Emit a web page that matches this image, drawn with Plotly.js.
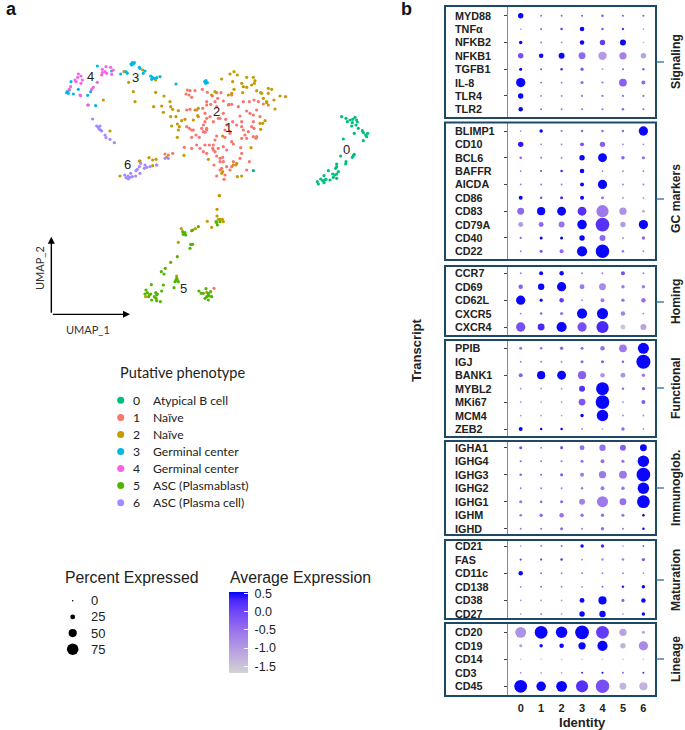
<!DOCTYPE html>
<html>
<head>
<meta charset="utf-8">
<script src="https://cdn.plot.ly/plotly-3.0.1.min.js"></script>
<style>html,body{margin:0;padding:0;background:#fff}</style>
</head>
<body>
<div id="chart" style="width:685px;height:730px"></div>
<script>
// ---------- UMAP embedding values ----------
const c0x=[875,888,892,900,908,915,920,922,907,905,918,925,937,940,953,947,950,940,913,880,910,913,907,888,887,872,860,860,857,865,860,855,848,850,860,835,822,812,818,825,822,802,805,828,840,610];
const c0y=[200,205,215,210,208,202,210,216,218,228,225,235,242,248,250,255,260,272,250,267,317,313,322,335,342,318,342,350,355,365,372,375,372,382,385,362,377,387,392,390,398,395,402,388,390,362];
const c1x=[412,420,435,457,408,425,417,472,500,513,487,503,520,537,545,535,482,495,545,470,458,440,420,410,445,430,465,470,480,465,460,470,460,465,490,510,527,520,500,565,580,598,612,625,640,590,570,575,548,560,530,525,540,600,610,620,630,605,612,595,585,575,590,620,618,545,550,500,495,525,490,488,465,478,450,460,470,490,495,505,520,403,425,440,448,425,418,410,425,572,575,510,518,520,510,570,492,510,515,530,540,550,558,545,525,522,500,590,598,345,355,368,438,500,575,610,610,580,540,470,455,470,505,530,492];
const c1y=[120,122,122,118,132,142,135,127,128,128,138,145,153,163,163,165,163,155,135,155,175,180,178,180,200,240,190,205,200,215,225,235,245,247,215,205,208,190,170,170,155,155,150,155,162,183,198,215,215,225,225,240,245,190,195,180,200,230,235,245,255,265,265,260,265,275,282,258,270,262,285,295,285,285,295,305,310,300,305,295,290,292,295,285,262,262,235,230,240,293,310,325,322,335,335,325,345,360,355,350,360,335,345,350,375,388,378,360,335,312,315,310,255,318,230,215,260,240,250,240,235,165,205,300,715];
const c2x=[222,278,236,250,255,160,180,317,317,342,311,335,360,362,368,340,385,378,362,405,395,365,382,388,385,382,402,430,435,445,443,485,495,515,540,552,548,562,535,545,552,575,590,610,615,613,605,578,580,590,620,635,640,632,655,665,655,650,655,650,672,690,707,675,630,638,645,632,270,297,308,318,308,320,210,268,350,603,475,560,550,562,575,518,515,508,518,
508,501,501,505,510,517,520,436,472,485,394,385,422,380,470,287];
const c2y=[65,60,97,125,155,150,243,90,127,138,170,168,155,170,178,187,182,200,200,208,212,228,222,230,240,262,316,210,180,175,197,135,125,87,72,65,95,75,135,130,118,100,82,82,92,100,105,128,110,112,122,130,145,128,115,118,130,158,165,155,150,138,140,177,220,220,212,238,333,323,330,328,347,345,378,333,322,293,328,340,345,380,378,365,370,437,258,
437,478,498,508,508,508,515,536,514,532,536,577,583,678,727,740];
const c3x=[142,247,253,245,250,243,268,270,285,280,302,307,305,312,320,330,378,468,472,464,467,212,228,232,63,52,55,50,58,70,85,113,122,115,137,185];
const c3y=[48,38,38,45,42,42,52,55,63,70,78,82,88,85,83,80,102,92,98,95,100,72,65,70,95,125,130,128,120,132,118,136,125,165,167,63];
const c4x=[85,93,83,97,93,62,58,90,92,168,157,182,157,170,190,185,165,142,130,125,75,78,155,113];
const c4y=[72,78,82,90,100,110,118,135,137,50,58,52,68,70,60,73,65,97,112,118,90,95,75,165];
const c5x=[498,502,500,510,398,402,405,407,400,425,428,445,423,428,420,382,362,346,334,342,304,340,335,380,382,375,385,372,378,288,285,292,298,302,296,317,320,313,318,305,320,331,322,447,454,460,468,475,482,485,475,470,465,475,478];
const c5y=[515,525,518,515,545,550,548,555,553,542,540,530,583,583,595,620,637,655,665,672,704,705,723,685,690,695,695,713,690,720,732,728,735,732,740,728,735,740,745,750,752,755,732,723,730,730,716,730,725,740,735,740,745,750,738];
const c6x=[128,140,145,150,148,152,155,165,168,180,193,224,228,235,240,247,257,270,262,268,272,285,283,290,300,320,345,355,242,234,258];
const c6y=[207,228,232,228,238,240,243,255,263,268,278,375,383,387,382,380,378,370,358,350,340,345,355,352,350,345,325,325,370,378,362];
const clusterX=[c0x,c1x,c2x,c3x,c4x,c5x,c6x];
const clusterY=[c0y,c1y,c2y,c3y,c4y,c5y,c6y];
const clusterColors=['#00BF7D','#F8766D','#C49A00','#00B8E7','#F564E3','#53B400','#A58AFF'];
const clusterIds=['0','1','2','3','4','5','6'];
const clusterNames=['Atypical B cell','Naïve','Naïve','Germinal center','Germinal center','ASC (Plasmablast)','ASC (Plasma cell)'];
const clusterLabelX=[890,535,500,257,120,400,233];
const clusterLabelY=[297,233,183,83,78,715,343];

// ---------- Dot plot values ----------
const identities=[0,1,2,3,4,5,6];
const signalingGenes=['MYD88','TNFα','NFKB2','NFKB1','TGFB1','IL-8','TLR4','TLR2'];
const signalingPct=[[29,3,3,3,7,4,4],[1,4,7,22,7,7,1],[14,4,2,22,29,33,0],[29,22,33,40,51,43,29],[11,4,7,14,2,4,7],[58,2,2,11,4,47,18],[29,2,2,4,4,4,4],[22,2,2,4,4,7,4]];
const signalingAvg=[[.5,-.4,-.3,-.2,-.2,-.3,-.3],[-1,-.4,.1,.5,-.2,.1,-1],[.5,-.6,-.8,.5,.1,.5,-1.2],[-.1,.5,.5,-.4,-1,-.7,-1.1],[.5,-.2,.3,-.3,-1,-.4,-.4],[.5,-.4,-.4,-.4,-.4,-.3,-.4],[.5,-.5,-.5,-.5,-.4,-.4,-.4],[.5,-.5,-.5,-.5,-.4,-.4,-.4]];
const gcGenes=['BLIMP1','CD10','BCL6','BAFFR','AICDA','CD86','CD83','CD79A','CD40','CD22'];
const gcPct=[[2,14,4,7,7,7,58],[29,2,2,18,29,2,2],[7,2,2,29,55,14,11],[2,3,7,22,2,2,2],[2,2,2,18,58,2,2],[18,7,11,18,11,2,2],[40,50,55,55,80,43,11],[25,25,33,60,92,29,58],[4,11,11,29,33,2,14],[2,11,18,65,90,7,2]];
const gcAvg=[[-1,.5,-.5,-.4,-.4,-.4,.5],[.4,-.6,-.6,-.2,-.3,-.6,-.7],[-.3,-.5,-.6,.5,.5,-.3,-.4],[-.5,.1,.3,.5,-.5,-.5,-.5],[-.6,-.5,-.5,.5,.5,-.6,-.6],[.5,-.1,.3,.5,-.6,-.6,-.8],[-.4,.5,.5,.2,-.6,-.9,-1.3],[-1,-.4,-.5,.5,.2,-1,.5],[-.3,.5,.5,.5,-.4,-.6,-.4],[-.6,-.2,-.4,.5,.5,-.5,-.6]];
const homingGenes=['CCR7','CD69','CD62L','CXCR5','CXCR4'];
const homingPct=[[2,18,22,3,2,18,2],[22,36,58,25,40,14,14],[58,11,22,2,18,14,22],[2,7,11,65,72,22,1],[58,40,65,58,80,25,33]];
const homingAvg=[[-.6,.5,.5,-.6,-.6,-.1,-.6],[-.3,.5,.5,-.6,-.8,-.6,-.6],[.5,.5,.1,-.7,-.6,-.5,-.5],[-.6,-.3,-.4,.5,.5,-.7,-.7],[-.1,.3,.5,-.1,.3,-1.5,-1.1]];
const functionalGenes=['PPIB','IGJ','BANK1','MYBL2','MKi67','MCM4','ZEB2'];
const functionalPct=[[11,7,14,11,22,47,72],[2,3,2,11,11,7,95],[18,50,55,50,22,25,14],[1,1,1,33,85,7,11],[1,1,1,40,92,2,18],[1,1,1,14,75,2,2],[18,7,7,2,1,14,2]];
const functionalAvg=[[-.5,-.5,-.4,-.5,-.5,-.6,.5],[-.6,-.6,-.6,-.4,-.3,-.3,.5],[-.3,.5,.5,-.3,-.9,-.9,-.6],[-.8,-.8,-.8,.2,.5,-.5,-.2],[-.8,-.9,-.8,-.2,.5,-.7,-.2],[-.9,-.9,-.9,.5,.5,-.8,-.8],[.5,.5,.5,-.8,-.9,-.4,-.9]];
const immunoGenes=['IGHA1','IGHG4','IGHG3','IGHG2','IGHG1','IGHM','IGHD'];
const immunoPct=[[11,2,12,25,36,33,40],[4,2,4,11,18,11,75],[7,4,11,18,43,47,92],[2,2,2,7,18,14,75],[11,7,11,33,72,40,85],[7,14,22,14,14,11,7],[2,4,11,3,14,3,7]];
const immunoAvg=[[-.1,-.6,-.2,-.5,-.5,-.3,.5],[-.4,-.6,-.5,-.5,-.5,-.4,.5],[-.3,-.4,-.2,-.6,-.6,-.6,.5],[-.5,-.5,-.5,-.6,-.6,-.5,.5],[-.5,-.3,-.4,-.7,-.6,-.5,.5],[-.5,-.4,-.5,-.5,-.5,-.5,.5],[-.5,-.5,-.4,-.5,-.5,-.5,.5]];
const maturationGenes=['CD21','FAS','CD11c','CD138','CD38','CD27'];
const maturationPct=[[1,2,4,14,14,1,3],[4,4,7,2,7,7,14],[22,2,2,2,2,2,1],[1,2,2,1,3,7,14],[1,1,1,25,50,11,22],[1,2,1,29,36,1,14]];
const maturationAvg=[[-.9,-.7,-.5,.5,.3,-.9,-.2],[.1,.2,.2,-.7,-.8,-.6,-.3],[.5,-.5,-.6,-.6,-.6,-.6,-.8],[-.6,-.5,-.6,-.7,-.3,.4,.5],[-.9,-.9,-.9,.5,.5,-.3,.5],[-.8,-.6,-.8,.5,.5,-.8,.5]];
const lineageGenes=['CD20','CD19','CD14','CD3','CD45'];
const lineagePct=[[70,85,75,92,85,43,11],[11,14,22,43,65,29,58],[1,1,1,1,1,1,1],[1,1,1,3,3,2,3],[85,60,70,80,90,40,50]];
const lineageAvg=[[-.9,.5,.5,.5,.1,-1.1,-1.1],[-1,.5,.5,.5,.5,-1.3,-.8],[-1.6,-1.6,-1.6,-1.6,-1.6,-1.6,-1.6],[-.7,-1,-1,.3,.5,-.3,.3],[.5,.5,.5,.2,-.1,-1.3,-1.3]];
const groupNames=['Signaling','GC markers','Homing','Functional','Immunoglob.','Maturation','Lineage'];
const percentTicks=[0,25,50,75];
const avgTicks=[0.5,0,-0.5,-1,-1.5];

// ---------- Layout (pixels of the 685x730 page) ----------
const W=685,H=730;
const px=v=>v/W, py=v=>1-v/H;
const FONT='"Liberation Sans", Arial, sans-serif';
const NARROW='Lato, "Liberation Sans", Arial, sans-serif';
const INK='#222222';
const FRAME='#1c4a66';
const groups=[
 {genes:signalingGenes,pct:signalingPct,avg:signalingAvg,top:6,bot:118,first:15.7,last:109.3,label:62},
 {genes:gcGenes,pct:gcPct,avg:gcAvg,top:122.5,bot:260,first:131,last:251.3,label:199},
 {genes:homingGenes,pct:homingPct,avg:homingAvg,top:266,bot:336,first:273.3,last:327,label:302},
 {genes:functionalGenes,pct:functionalPct,avg:functionalAvg,top:340,bot:437,first:348.3,last:429,label:388},
 {genes:immunoGenes,pct:immunoPct,avg:immunoAvg,top:441,bot:535,first:447.7,last:528.7,label:488},
 {genes:maturationGenes,pct:maturationPct,avg:maturationAvg,top:540,bot:619,first:546,last:614,label:580},
 {genes:lineageGenes,pct:lineagePct,avg:lineageAvg,top:623,bot:696,first:632.3,last:686.3,label:659}
];
const dotL=508.3,dotR=656,frameL=445,col0=520.7,colStep=20.45;
const pctToDiameter=p=>1.6+0.132*p;

const traces=[],annotations=[],shapes=[];
const layout={
 width:W,height:H,margin:{l:0,r:0,t:0,b:0,pad:0},paper_bgcolor:'#fff',plot_bgcolor:'rgba(0,0,0,0)',
 showlegend:false,font:{family:FONT,color:INK,size:11},hovermode:'closest',
 coloraxis:{cmin:-1.69,cmax:0.53,colorscale:[[0,'#D3D3D3'],[0.25,'#BBA5E0'],[0.5,'#9D77EC'],[0.75,'#7248F6'],[0.9,'#4926FB'],[1,'#0000FF']],
  colorbar:{x:px(228.7),xanchor:'left',y:py(592.3),yanchor:'top',lenmode:'pixels',len:81.4,thicknessmode:'pixels',thickness:18.6,
   xpad:0,ypad:0,outlinewidth:0,borderwidth:0,tickmode:'array',tickvals:avgTicks,ticktext:avgTicks.map(v=>'\u00A0'+v.toFixed(1)),
   ticks:'inside',ticklen:4,tickwidth:1,tickcolor:'#fff',tickfont:{family:FONT,size:12.5,color:INK}}}
};
// UMAP axes
layout.xaxis={domain:[0,px(400)],range:[-150,1050],visible:false,fixedrange:true};
layout.yaxis={domain:[py(380),1],range:[990,-150],visible:false,fixedrange:true};
clusterX.forEach((xs,i)=>{
 traces.push({type:'scatter',mode:'markers',name:clusterIds[i]+' '+clusterNames[i],x:xs,y:clusterY[i],xaxis:'x',yaxis:'y',
  marker:{color:clusterColors[i],size:3.2,line:{width:0}},hoverinfo:'name'});
 annotations.push({xref:'x',yref:'y',x:clusterLabelX[i],y:clusterLabelY[i],text:clusterIds[i],showarrow:false,xanchor:'center',yanchor:'middle',font:{size:13,color:INK}});
});
// UMAP arrows
const corner=[4,793];
annotations.push({xref:'x',yref:'y',axref:'x',ayref:'y',x:corner[0],y:560,ax:corner[0],ay:corner[1],text:'',showarrow:true,arrowhead:2,arrowsize:1,arrowwidth:1.4,arrowcolor:'#000'});
annotations.push({xref:'x',yref:'y',axref:'x',ayref:'y',x:240,y:corner[1],ax:corner[0],ay:corner[1],text:'',showarrow:true,arrowhead:2,arrowsize:1,arrowwidth:1.4,arrowcolor:'#000'});
annotations.push({xref:'x',yref:'y',x:115,y:837,text:'UMAP_1',showarrow:false,xanchor:'center',yanchor:'middle',font:{family:NARROW,size:11,color:'#333'}});
annotations.push({xref:'x',yref:'y',x:-33,y:654,text:'UMAP_2',textangle:-90,showarrow:false,xanchor:'center',yanchor:'middle',font:{family:NARROW,size:11,color:'#333'}});
// panel letters
annotations.push({xref:'paper',yref:'paper',x:px(4),y:py(9),xanchor:'left',yanchor:'middle',text:'<b>a</b>',showarrow:false,font:{size:18,color:'#111'}});
annotations.push({xref:'paper',yref:'paper',x:px(399),y:py(9),xanchor:'left',yanchor:'middle',text:'<b>b</b>',showarrow:false,font:{size:18,color:'#111'}});

// Dot plot panels
layout.xaxis2={domain:[px(dotL),px(dotR)],range:[(dotL-col0)/colStep,(dotR-col0)/colStep],anchor:'y8',tickmode:'array',tickvals:identities,ticktext:identities.map(String),
 ticks:'outside',ticklen:2,tickcolor:'rgba(0,0,0,0)',showline:false,showgrid:false,zeroline:false,fixedrange:true,tickfont:{family:FONT,size:11,weight:700,color:INK},
 title:{text:'Identity',standoff:6,font:{family:FONT,size:13,weight:700,color:INK}}};
groups.forEach((g,k)=>{
 const id=k+2,name='yaxis'+id,ref='y'+id;
 const n=g.genes.length,step=(g.last-g.first)/(n-1);
 layout[name]={domain:[py(g.bot),py(g.top)],type:'category',categoryorder:'array',categoryarray:g.genes,
  range:[n-1+(g.bot-g.last)/step,-(g.first-g.top)/step],anchor:'x2',showline:true,linecolor:'#8a8a8a',linewidth:1.2,ticks:'outside',ticklen:3,tickwidth:1,tickcolor:'#444',
  showticklabels:false,showgrid:false,zeroline:false,fixedrange:true};
 const xs=[],ys=[],ss=[],cs=[];
 g.genes.forEach((gene,r)=>identities.forEach((idn,c)=>{xs.push(idn);ys.push(gene);ss.push(pctToDiameter(g.pct[r][c]));cs.push(g.avg[r][c]);}));
 traces.push({type:'scatter',mode:'markers',name:groupNames[k],x:xs,y:ys,xaxis:'x2',yaxis:ref,
  marker:{size:ss,color:cs,coloraxis:'coloraxis',line:{width:0},opacity:1},showlegend:false});
 g.genes.forEach(gene=>annotations.push({xref:'paper',yref:ref,x:px(452.5),xanchor:'left',yanchor:'middle',y:gene,text:'<b>'+gene+'</b>',showarrow:false,font:{size:10.8,color:INK}}));
 shapes.push({type:'rect',xref:'paper',yref:'paper',x0:px(frameL),x1:px(dotR),y0:py(g.bot),y1:py(g.top),line:{color:FRAME,width:2},fillcolor:'rgba(0,0,0,0)',layer:'above'});
 shapes.push({type:'line',xref:'paper',yref:'paper',x0:px(dotR),x1:px(664),y0:py(g.label),y1:py(g.label),line:{color:'#2d6f8e',width:1.3}});
 annotations.push({xref:'paper',yref:'paper',x:px(676),y:py(g.label),xanchor:'center',yanchor:'middle',text:'<b>'+groupNames[k]+'</b>',textangle:-90,showarrow:false,font:{size:12.2,color:INK}});
});
annotations.push({xref:'paper',yref:'paper',x:px(417),y:py(350),xanchor:'center',yanchor:'middle',text:'<b>Transcript</b>',textangle:-90,showarrow:false,font:{size:13,color:INK}});

// Phenotype key
layout.xaxis3={domain:[px(110.7),px(130.7)],range:[-1,1],visible:false,fixedrange:true,anchor:'y9'};
layout.yaxis9={domain:[py(511.2),py(391.8)],range:[6.5,-0.5],visible:false,fixedrange:true,anchor:'x3'};
traces.push({type:'scatter',mode:'markers',x:clusterIds.map(()=>0),y:clusterIds.map((_,i)=>i),xaxis:'x3',yaxis:'y9',hoverinfo:'skip',
 marker:{size:7,color:clusterColors,line:{width:0},opacity:1}});
annotations.push({xref:'paper',yref:'paper',x:px(118),y:py(372),xanchor:'left',yanchor:'middle',text:'Putative phenotype',showarrow:false,font:{family:NARROW,size:14.5,color:INK}});
clusterIds.forEach((d,i)=>{
 annotations.push({xref:'paper',yref:'y9',x:px(136.7),y:i,xanchor:'center',yanchor:'middle',text:d,showarrow:false,font:{family:NARROW,size:12.2,color:INK}});
 annotations.push({xref:'paper',yref:'y9',x:px(151),y:i,xanchor:'left',yanchor:'middle',text:clusterNames[i],showarrow:false,font:{family:NARROW,size:12.2,color:INK}});
});
// Percent key
layout.xaxis4={domain:[px(62.7),px(82.7)],range:[-1,1],visible:false,fixedrange:true,anchor:'y10'};
layout.yaxis10={domain:[py(657.4),py(592.6)],range:[3.5,-0.5],visible:false,fixedrange:true,anchor:'x4'};
traces.push({type:'scatter',mode:'markers',x:percentTicks.map(()=>0),y:percentTicks.map((_,i)=>i),xaxis:'x4',yaxis:'y10',hoverinfo:'skip',
 marker:{size:percentTicks.map(pctToDiameter),color:'#000',line:{width:0},opacity:1}});
percentTicks.forEach((t,i)=>annotations.push({xref:'paper',yref:'y10',x:px(89),y:i,xanchor:'left',yanchor:'middle',text:String(t),showarrow:false,font:{size:13,color:INK}}));
annotations.push({xref:'paper',yref:'paper',x:px(62.5),y:py(577.5),xanchor:'left',yanchor:'middle',text:'Percent Expressed',showarrow:false,font:{size:15.8,color:INK}});
annotations.push({xref:'paper',yref:'paper',x:px(228),y:py(577.5),xanchor:'left',yanchor:'middle',text:'Average Expression',showarrow:false,font:{size:15.8,color:INK}});

layout.annotations=annotations;layout.shapes=shapes;
Plotly.newPlot('chart',traces,layout,{displayModeBar:false,responsive:false});
</script>
</body>
</html>
